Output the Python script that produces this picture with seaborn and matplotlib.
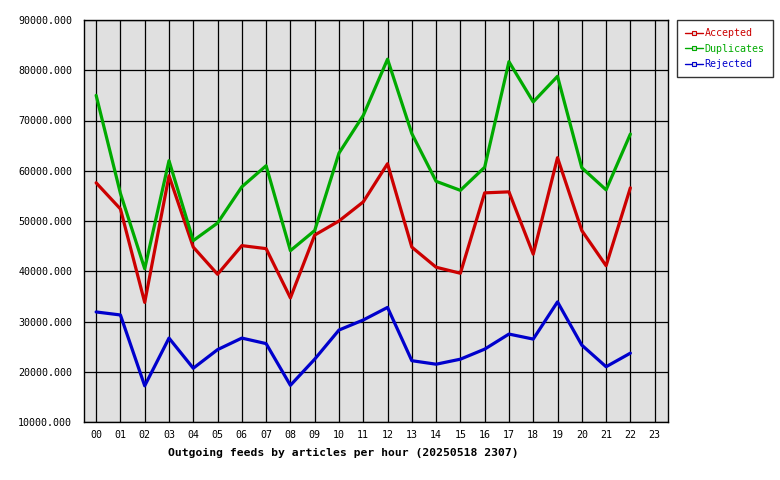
import seaborn as sns
import numpy as np
import pandas as pd
import matplotlib
matplotlib.use('Agg')
from matplotlib import pyplot as plt
from matplotlib.lines import Line2D
from matplotlib.ticker import FormatStrFormatter

hours = ['%02d' % h for h in range(24)]
accepted = [57600, 52400, 33800, 59000, 44800, 39400, 45100, 44500, 34700, 47200,
            50000, 53800, 61400, 44800, 40800, 39600, 55600, 55800, 43400, 62600,
            48100, 41100, 56600]
duplicates = [75000, 55500, 40500, 62000, 46100, 49600, 56800, 61000, 44100, 48100,
              63500, 71000, 82200, 67400, 57900, 56100, 60700, 81700, 73700, 78800,
              60600, 56200, 67300]
rejected = [31900, 31300, 17200, 26700, 20700, 24400, 26700, 25600, 17300, 22500,
            28300, 30300, 32800, 22200, 21500, 22500, 24500, 27500, 26500, 33900,
            25300, 21000, 23700]
series = ['Accepted', 'Duplicates', 'Rejected']
colors = ['#cc0000', '#00aa00', '#0000cc']

rows = []
for name, vals in zip(series, [accepted, duplicates, rejected]):
    for i, v in enumerate(vals):
        rows.append({'hour': i, 'value': v, 'series': name})
df = pd.DataFrame(rows)

sns.set_style('white')
plt.rcParams['font.family'] = ['DejaVu Sans Mono']

fig = plt.figure(figsize=(7.8, 4.8), dpi=100)
ax = fig.add_axes([84 / 780, 1 - 422 / 480, 584 / 780, 402 / 480])
ax.set_facecolor('#e0e0e0')

sns.lineplot(data=df, x='hour', y='value', hue='series', palette=colors,
             linewidth=2.3, ax=ax, legend=False)

ax.set_xlim(-0.5, 23.55)
ax.set_ylim(10000, 90000)
ax.set_xticks(range(24))
ax.set_xticklabels(hours)
ax.set_yticks(range(10000, 90001, 10000))
ax.yaxis.set_major_formatter(FormatStrFormatter('%.3f'))
ax.grid(True, color='black', linewidth=0.9)
ax.set_axisbelow(True)
for s in ax.spines.values():
    s.set_color('black')
    s.set_linewidth(1.0)
    s.set_visible(True)
ax.tick_params(axis='x', direction='out', length=3, width=0.9, labelsize=7.2, pad=3, colors='black')
ax.tick_params(axis='y', direction='out', length=8, width=0.9, labelsize=7.2, pad=0.5, colors='black')
ax.set_xlabel('Outgoing feeds by articles per hour (20250518 2307)',
              fontsize=8.2, fontweight='bold', color='black')
ax.xaxis.set_label_coords((343 - 84) / 584, -0.065)
ax.set_ylabel('')

handles = [Line2D([0], [0], color=c, linewidth=1.0, marker='s', markersize=3,
                  markerfacecolor='#e0e0e0', markeredgecolor=c, markeredgewidth=0.8)
           for c in colors]
leg = fig.legend(handles, series, loc='upper left',
                 bbox_to_anchor=(677 / 780, 1 - 20 / 480), fontsize=7.2,
                 frameon=True, fancybox=False, handlelength=1.8, handletextpad=0.15,
                 borderpad=0.8, labelspacing=0.55, borderaxespad=0)
leg.get_frame().set_edgecolor('black')
leg.get_frame().set_linewidth(1.0)
for t, c in zip(leg.get_texts(), colors):
    t.set_color(c)

fig.savefig('out.png', dpi=100)
